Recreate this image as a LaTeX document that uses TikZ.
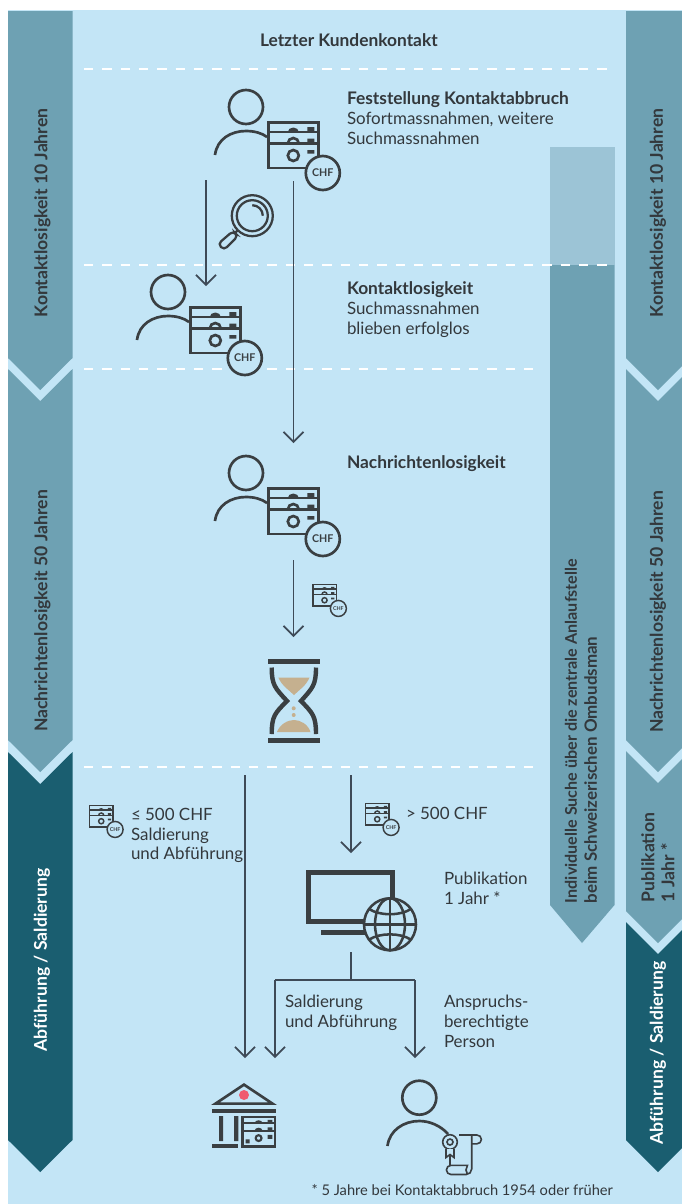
\documentclass[tikz,border=0pt]{standalone}
\usepackage{fontspec}
\setmainfont{Lato}
\usetikzlibrary{arrows.meta}
\definecolor{bglight}{HTML}{C3E5F6}
\definecolor{bandmid}{HTML}{6EA1B3}
\definecolor{bandlite}{HTML}{9CC4D6}
\definecolor{banddark}{HTML}{1A5E70}
\definecolor{ink}{HTML}{3A3F42}
\definecolor{txt}{HTML}{33383C}
\definecolor{arrowc}{HTML}{3E4A57}
\definecolor{sand}{HTML}{C5B08F}
\definecolor{dotred}{HTML}{EF5A6F}
\tikzset{
  lbl/.style={anchor=base west,inner sep=0pt,outer sep=0pt,yshift=-0.75pt,text=txt,font=\fontsize{12.7}{14}\selectfont},
  lblb/.style={lbl,font=\fontsize{13}{14}\selectfont\bfseries},
  vert/.style={rotate=90,inner sep=0pt,outer sep=0pt,font=\fontsize{13.2}{15}\selectfont\bfseries},
  dashline/.style={draw=white,line width=1.5pt,dash pattern=on 7pt off 6.75pt},
  conn/.style={draw=arrowc,line width=1.25pt},
  arrowline/.style={conn,-{Straight Barb[length=7.5pt,width=15pt,line width=1.25pt]}},
  icon/.style={draw=ink,line width=2pt},
}
\newcommand{\moneyicon}[5]{% x, y, scale, line width, font size
  \begin{scope}[shift={(#1,#2)},scale=#3]
    \draw[draw=ink,line width=#4] (1.3,1.3) rectangle (51.5,47);
    \draw[draw=ink,line width=#4] (1.3,11) -- (51.5,11) (1.3,22.5) -- (51.5,22.5);
    \draw[draw=ink,line width=#4] (26,34.5) circle (5.5);
    \draw[draw=ink,line width=#4] (20.5,22.5) arc[start angle=180,end angle=360,radius=5.5];
    \fill[ink] (20.5,11) arc[start angle=180,end angle=360,x radius=5.5,y radius=4.5] -- cycle;
    \fill[ink] (40,6) rectangle (47,11) (40,17.5) rectangle (47,22.5) (40,29) rectangle (47,32.5);
    \draw[draw=ink,line width=#4,fill=bglight] (55.5,52) circle (17);
    \node[inner sep=0pt,text=ink] at (55.5,52) {\fontsize{#5}{#5}\selectfont\bfseries CHF};
  \end{scope}}
\newcommand{\personicon}[2]{% x, y of head centre
  \draw[icon] (#1,#2) circle (17);
  \draw[icon] (#1-31,#2+48) .. controls (#1-29,#2+32) and (#1-15,#2+24) .. (#1,#2+24)
     .. controls (#1+8,#2+24) and (#1+16,#2+26) .. (#1+21,#2+30);
  \moneyicon{#1+21.3}{#2+14}{1}{2pt}{8}}
\begin{document}
\begin{tikzpicture}[x=0.75pt,y=-0.75pt]
\useasboundingbox (0,0) rectangle (682,1204);
\fill[white] (0,0) rectangle (682,1204);
\fill[bglight] (8,10) rectangle (682,1204);
% left bands
\fill[bandmid] (8,11) -- (72.5,11) -- (72.5,358) -- (40.25,390) -- (8,358) -- cycle;
\fill[bandmid] (8,369) -- (40.25,401) -- (72.5,369) -- (72.5,740) -- (40.25,772) -- (8,740) -- cycle;
\fill[banddark] (8,752) -- (40.25,784) -- (72.5,752) -- (72.5,1140) -- (40.25,1172) -- (8,1140) -- cycle;
% right bands
\fill[bandmid] (626,11) -- (682,11) -- (682,366) -- (658,390) -- (626,358) -- cycle;
\fill[bandmid] (626,369) -- (658,401) -- (682,377) -- (682,748) -- (658,772) -- (626,740) -- cycle;
\fill[bandmid] (626,751) -- (658,783) -- (682,759) -- (682,919) -- (658,943) -- (626,911) -- cycle;
\fill[banddark] (626,922) -- (658,954) -- (682,930) -- (682,1148) -- (658,1172) -- (626,1140) -- cycle;
% middle band
\fill[bandlite] (550,147) rectangle (615,265);
\fill[bandmid] (550,265) -- (614.5,265) -- (614.5,905) -- (582,943) -- (550,905) -- cycle;
% dashed lines
\coordinate (d1a) at (84,69);  \coordinate (d1b) at (615,69);
\coordinate (d2a) at (84,265); \coordinate (d2b) at (615,265);
\coordinate (d3a) at (84,369); \coordinate (d3b) at (536,369);
\coordinate (d4a) at (84,767); \coordinate (d4b) at (536,767);
\draw[dashline] (d1a) -- (d1b);
\draw[dashline] (d2a) -- (d2b);
\draw[dashline] (d3a) -- (d3b);
\draw[dashline] (d4a) -- (d4b);
% connectors
\coordinate (a1s) at (206,180); \coordinate (a1e) at (206,286);
\coordinate (a2s) at (293.5,181); \coordinate (a2e) at (293.5,443);
\coordinate (a3s) at (293.5,560); \coordinate (a3e) at (293.5,637);
\coordinate (a4s) at (245,775); \coordinate (a4e) at (245,1058);
\coordinate (a5s) at (351,775); \coordinate (a5e) at (351,853);
\coordinate (b0) at (351,952); \coordinate (bj) at (351,980);
\coordinate (bl) at (275,980); \coordinate (blb) at (275,1058);
\coordinate (br) at (415,980); \coordinate (brb) at (415,1058);
\draw[arrowline] (a1s) -- (a1e);
\draw[arrowline] (a2s) -- (a2e);
\draw[arrowline] (a3s) -- (a3e);
\draw[arrowline] (a4s) -- (a4e);
\draw[arrowline] (a5s) -- (a5e);
\draw[conn] (b0) -- (bj);
\draw[conn] (bl) -- (br);
\draw[arrowline] (bl) -- (blb);
\draw[arrowline] (br) -- (brb);
% person icons
\personicon{246}{107}
\personicon{168}{292}
\personicon{246}{473}
% magnifier
\draw[draw=ink,line width=1.7pt] (252.3,215.7) circle (20.5);
\draw[draw=ink,line width=1.7pt] (252.3,215.7) circle (15.5);
\draw[draw=ink,line width=1.7pt] (252.3,205.2) arc[start angle=270,end angle=360,radius=10.5];
\draw[draw=ink,line width=1.7pt] (238,230) -- (234.5,233.5);
\draw[draw=ink,line width=1.7pt,rounded corners=3pt] (233,231) -- (238,236) -- (224,250) -- (218,244) -- cycle;
% small money icons
\moneyicon{312.3}{584}{0.47}{1.1pt}{4}
\moneyicon{89}{805}{0.47}{1.1pt}{4}
\moneyicon{365}{803}{0.47}{1.1pt}{4}
% hourglass
\fill[ink] (268,659) rectangle (320,664.3);
\fill[ink] (268,738) rectangle (320,743.3);
\draw[draw=ink,line width=3.3pt] (271.7,667.5) .. controls (271.7,685) and (275,688) .. (287,701)
   .. controls (275,713) and (271.7,716) .. (271.7,734);
\draw[draw=ink,line width=3.3pt] (316,667.5) .. controls (316,685) and (312.7,688) .. (301,701)
   .. controls (312.7,713) and (316,716) .. (316,734);
\fill[sand] (278.3,677.5) -- (309.5,677.5) .. controls (306,686) and (299,690) .. (294,695)
   .. controls (289,690) and (282,686) .. (278.3,677.5) -- cycle;
\fill[sand] (277,732) .. controls (280,724) and (288,720) .. (294,720) .. controls (300,720) and (308,724) .. (310.5,732) -- cycle;
\fill[sand] (293.7,708.3) circle (2) (293.7,715) circle (2);
% monitor
\draw[draw=ink,line width=3.7pt] (308.5,872.5) rectangle (392.5,921.8);
\fill[ink] (321,930) rectangle (372,935);
\begin{scope}[draw=ink,line width=1.9pt]
\draw[fill=bglight] (390,924.3) circle (26);
\draw (390,924.3) ellipse (15 and 26);
\draw (390,898.3) -- (390,950.3) (364,924.3) -- (416,924.3);
\draw (369,909) .. controls (380,916) and (400,916) .. (411,909);
\draw (369,939.6) .. controls (380,932.6) and (400,932.6) .. (411,939.6);
\end{scope}
% bank
\draw[draw=ink,line width=2pt,line join=miter] (215.5,1103.6) -- (244,1084.6) -- (272.5,1103.6) -- cycle;
\fill[dotred] (244,1095) circle (5);
\fill[ink] (212,1109) rectangle (276,1113);
\fill[ink] (219,1116) rectangle (223,1141) (234,1116) rectangle (238.3,1141);
\fill[ink] (212,1144) rectangle (238,1148);
\begin{scope}[shift={(241.7,1116)},scale=0.65]
  \draw[draw=ink,line width=1.6pt] (1.3,1.3) rectangle (51.5,47);
  \draw[draw=ink,line width=1.6pt] (1.3,11) -- (51.5,11) (1.3,22.5) -- (51.5,22.5);
  \draw[draw=ink,line width=1.6pt] (26,34) circle (4.5);
  \fill[ink] (20,22.5) arc[start angle=180,end angle=360,x radius=6,y radius=4.5] -- cycle;
  \fill[ink] (20,11) arc[start angle=180,end angle=360,x radius=6,y radius=4.5] -- cycle;
  \fill[ink] (40,6) rectangle (47,11) (40,17.5) rectangle (47,22.5) (40,29) rectangle (47,35) (6,36) rectangle (12,42);
\end{scope}
% claimant
\draw[icon] (419.3,1097.7) circle (17);
\draw[icon] (387.5,1146) .. controls (389.5,1130) and (404,1121) .. (419.3,1121)
   .. controls (430,1121) and (441,1126) .. (448,1134);
\begin{scope}[draw=ink,line width=1.2pt]
\draw (459,1135) -- (477,1135) arc[start angle=-90,end angle=90,radius=4.4] -- (471.7,1143.8);
\draw (471.7,1135.5) -- (471.7,1169) arc[start angle=0,end angle=90,radius=5.5] -- (451,1174.5)
   arc[start angle=90,end angle=270,radius=4.6] -- (467.5,1165.3) -- (466,1170) -- (467.5,1174.5);
\draw (450,1155) -- (450,1165.3);
\draw[fill=bglight] (450,1142) circle (7.3);
\draw (450,1142) circle (3);
\draw[fill=bglight] (446,1149) -- (446,1157.5) -- (450,1154.5) -- (454,1157.5) -- (454,1149);
\end{scope}
% texts
\node[lblb] (n1) at (260,45) {Letzter Kundenkontakt};
\node[lblb] (n2) at (347,103) {Feststellung Kontaktabbruch};
\node[lbl]  (n3) at (347,123) {Sofortmassnahmen, weitere};
\node[lbl]  (n4) at (347,143) {Suchmassnahmen};
\node[lblb] (n5) at (347,293) {Kontaktlosigkeit};
\node[lbl]  (n6) at (347,313) {Suchmassnahmen};
\node[lbl]  (n7) at (347,333) {blieben erfolglos};
\node[lblb] (n8) at (347,467) {Nachrichtenlosigkeit};
\node[lbl]  (n9) at (131,819) {≤ 500 CHF};
\node[lbl]  (n10) at (131,839) {Saldierung};
\node[lbl]  (n11) at (131,858) {und Abführung};
\node[lbl]  (n12) at (406,818) {> 500 CHF};
\node[lbl]  (n13) at (444,883) {Publikation};
\node[lbl]  (n14) at (444,903) {1 Jahr *};
\node[lbl]  (n15) at (285,1006) {Saldierung};
\node[lbl]  (n16) at (285,1026) {und Abführung};
\node[lbl]  (n17) at (444,1006) {Anspruchs-};
\node[lbl]  (n18) at (444,1026) {berechtigte};
\node[lbl]  (n19) at (444,1046) {Person};
\node[lbl,anchor=base east] (n20) at (613,1194) {\fontsize{11}{12}\selectfont * 5 Jahre bei Kontaktabbruch 1954 oder früher};
% vertical labels
\node[vert,text=txt] (v1) at (42.5,213) {Kontaktlosigkeit 10 Jahren};
\node[vert,text=txt] (v2) at (42.5,611) {Nachrichtenlosigkeit 50 Jahren};
\node[vert,text=white] (v3) at (42,960) {Abführung / Saldierung};
\node[vert,text=txt] (v4) at (658,213) {Kontaktlosigkeit 10 Jahren};
\node[vert,text=txt] (v5) at (658,612) {Nachrichtenlosigkeit 50 Jahren};
\node[vert,text=white] (v6) at (658,1053) {Abführung / Saldierung};
\node[vert,text=txt,align=left,anchor=west] (v7) at (658,902) {Publikation\\1 Jahr *};
\node[vert,text=txt,align=left,anchor=west,font=\fontsize{12.1}{15}\selectfont\bfseries] (v8) at (581,903) {Individuelle Suche über die zentrale Anlaufstelle\\{\fontsize{12.7}{15}\selectfont beim Schweizerischen Ombudsman}};
\end{tikzpicture}
\end{document}
